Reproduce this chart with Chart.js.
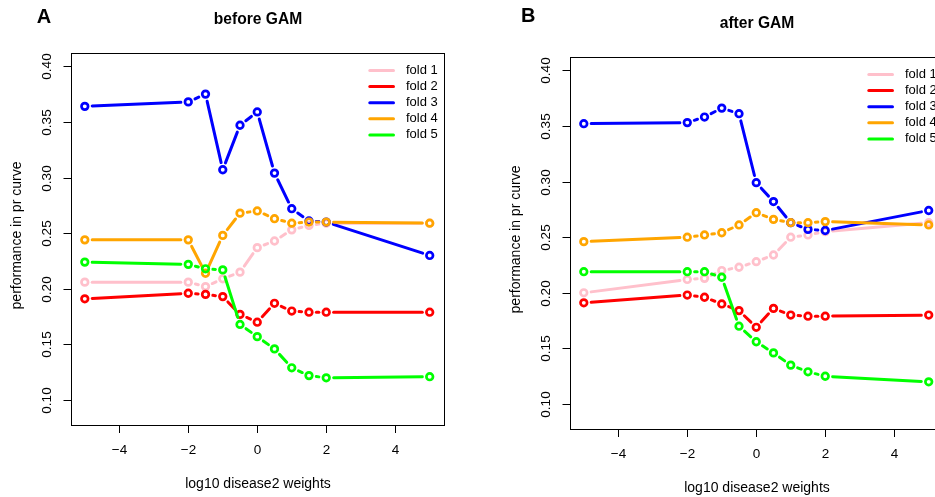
<!DOCTYPE html>
<html>
<head>
<meta charset="utf-8">
<script src="https://cdn.jsdelivr.net/npm/chart.js@4"></script>
<style>
  html, body { margin: 0; padding: 0; width: 935px; height: 497px; overflow: hidden; background: #fff; }
  canvas { position: absolute; }
  #panelA { left: 0; top: 0; }
  #panelB { left: 499px; top: 4px; }
</style>
</head>
<body>
<canvas id="panelA" width="470" height="497"></canvas>
<canvas id="panelB" width="470" height="497"></canvas>
<script>
// log10 weights given to disease2 samples
const weights = [-5, -2, -1.5, -1, -0.5, 0, 0.5, 1, 1.5, 2, 5];

const foldLabels = ['fold 1', 'fold 2', 'fold 3', 'fold 4', 'fold 5'];
const foldColors = ['#FFC0CB', '#FF0000', '#0000FF', '#FFA500', '#00FF00'];

const xTicks = [-4, -2, 0, 2, 4];
const yTicks = [0.10, 0.15, 0.20, 0.25, 0.30, 0.35, 0.40];

// area under the precision-recall curve, before GAM correction
const fold1Before = [0.206, 0.206, 0.202, 0.209, 0.215, 0.237, 0.243, 0.253, 0.257, 0.259, 0.259];
const fold2Before = [0.191, 0.196, 0.195, 0.193, 0.177, 0.170, 0.187, 0.180, 0.179, 0.179, 0.179];
const fold3Before = [0.364, 0.368, 0.375, 0.307, 0.347, 0.359, 0.304, 0.272, 0.261, 0.260, 0.230];
const fold4Before = [0.244, 0.244, 0.214, 0.248, 0.268, 0.270, 0.263, 0.259, 0.260, 0.260, 0.259];
const fold5Before = [0.224, 0.222, 0.218, 0.217, 0.168, 0.157, 0.146, 0.129, 0.122, 0.120, 0.121];

// same, after GAM correction
const fold1After = [0.200, 0.212, 0.213, 0.220, 0.223, 0.228, 0.234, 0.250, 0.252, 0.255, 0.263];
const fold2After = [0.191, 0.198, 0.196, 0.190, 0.184, 0.169, 0.186, 0.180, 0.179, 0.179, 0.180];
const fold3After = [0.352, 0.353, 0.358, 0.366, 0.361, 0.299, 0.282, 0.263, 0.257, 0.256, 0.274];
const fold4After = [0.246, 0.250, 0.252, 0.254, 0.261, 0.272, 0.266, 0.263, 0.263, 0.264, 0.261];
const fold5After = [0.219, 0.219, 0.219, 0.214, 0.170, 0.156, 0.146, 0.135, 0.129, 0.125, 0.120];

const FONT = '"Liberation Sans", Arial, Helvetica, sans-serif';
const LINE_W = 3;
const GAP = 7.4;   // radius of the gap left around each point (type "b" look)

function fmtTick(v) {
  return String(v).replace('-', '\u2212');
}

// Lines broken around every point, drawn just before the dataset's own points
const gappedLines = {
  id: 'gappedLines',
  beforeDatasetDraw(chart, args) {
    const ctx = chart.ctx;
    const pts = args.meta.data;
    const color = chart.data.datasets[args.index].borderColor;
    ctx.save();
    ctx.strokeStyle = color;
    ctx.lineWidth = LINE_W;
    ctx.lineCap = 'round';
    for (let i = 0; i < pts.length - 1; i++) {
      const a = pts[i], b = pts[i + 1];
      const dx = b.x - a.x, dy = b.y - a.y;
      const d = Math.hypot(dx, dy);
      if (d <= 2 * GAP) continue;
      const ux = dx / d, uy = dy / d;
      ctx.beginPath();
      ctx.moveTo(a.x + ux * GAP, a.y + uy * GAP);
      ctx.lineTo(b.x - ux * GAP, b.y - uy * GAP);
      ctx.stroke();
    }
    ctx.restore();
  }
};

// Frame, axes, labels, title, panel tag and legend
const frame = {
  id: 'frame',
  afterDraw(chart, args, opts) {
    const ctx = chart.ctx;
    const area = chart.chartArea;
    const xs = chart.scales.x, ys = chart.scales.y;
    ctx.save();
    ctx.strokeStyle = '#000';
    ctx.fillStyle = '#000';
    ctx.lineWidth = 1;

    // box
    const L = Math.round(area.left) + 0.5, R = Math.round(area.right) + 0.5;
    const T = Math.round(area.top) + 0.5, B = Math.round(area.bottom) + 0.5;
    ctx.strokeRect(L, T, R - L, B - T);

    // x ticks and labels
    ctx.font = '13.5px ' + FONT;
    ctx.textAlign = 'center';
    ctx.textBaseline = 'middle';
    xTicks.forEach(v => {
      const px = Math.round(xs.getPixelForValue(v)) + 0.5;
      ctx.beginPath();
      ctx.moveTo(px, B);
      ctx.lineTo(px, B + 7.5);
      ctx.stroke();
      ctx.fillText(fmtTick(v), px, B + 25);
    });

    // y ticks and rotated labels
    yTicks.forEach(v => {
      const py = Math.round(ys.getPixelForValue(v)) + 0.5;
      ctx.beginPath();
      ctx.moveTo(L, py);
      ctx.lineTo(L - 8, py);
      ctx.stroke();
      ctx.save();
      ctx.translate(L - 24.5, py);
      ctx.rotate(-Math.PI / 2);
      ctx.fillText(v.toFixed(2), 0, 0);
      ctx.restore();
    });

    // axis titles
    ctx.font = '14px ' + FONT;
    ctx.fillText('log10 disease2 weights', (L + R) / 2, B + 59);
    ctx.save();
    ctx.translate(L - 54.5, (T + B) / 2 - 4);
    ctx.rotate(-Math.PI / 2);
    ctx.fillText('performance in pr curve', 0, 0);
    ctx.restore();

    // panel title
    ctx.font = 'bold 15.6px ' + FONT;
    ctx.fillText(opts.title, (L + R) / 2, 20);

    // panel tag
    ctx.font = 'bold 20px ' + FONT;
    ctx.textAlign = 'left';
    ctx.textBaseline = 'alphabetic';
    ctx.fillText(opts.tag, opts.tagX, opts.tagY);

    // legend
    ctx.font = '13px ' + FONT;
    ctx.textBaseline = 'middle';
    ctx.lineWidth = LINE_W;
    ctx.lineCap = 'round';
    foldLabels.forEach((lab, i) => {
      const y = T + 17 + i * 16.1;
      ctx.strokeStyle = foldColors[i];
      ctx.beginPath();
      ctx.moveTo(R - 74.7, y);
      ctx.lineTo(R - 51, y);
      ctx.stroke();
      ctx.fillText(lab, R - 38.5, y);
    });
    ctx.restore();
  }
};

function makePanel(id, tag, tagX, tagY, title, series) {
  const datasets = series.map((vals, i) => ({
    label: foldLabels[i],
    data: weights.map((w, j) => ({ x: w, y: vals[j] })),
    borderColor: foldColors[i],
    backgroundColor: 'rgba(0,0,0,0)',
    pointBorderColor: foldColors[i],
    pointBackgroundColor: 'rgba(0,0,0,0)',
    pointRadius: 3.3,
    pointHoverRadius: 3.3,
    pointBorderWidth: 2.7,
    showLine: false,
    order: series.length - 1 - i
  }));
  return new Chart(document.getElementById(id), {
    type: 'scatter',
    data: { datasets },
    options: {
      responsive: false,
      animation: false,
      devicePixelRatio: 1,
      events: [],
      layout: { padding: { top: 52.5, right: 26.5, left: 0, bottom: 0 } },
      plugins: {
        legend: { display: false },
        tooltip: { enabled: false },
        frame: { tag, tagX, tagY, title }
      },
      scales: {
        x: {
          type: 'linear', min: -5.4, max: 5.4,
          grid: { display: false }, border: { display: false },
          ticks: { display: false },
          afterFit(s) { s.height = 72; }
        },
        y: {
          type: 'linear', min: 0.0776, max: 0.4124,
          grid: { display: false }, border: { display: false },
          ticks: { display: false },
          afterFit(s) { s.width = 71; }
        }
      }
    },
    plugins: [gappedLines, frame]
  });
}

makePanel('panelA', 'A', 36.7, 22.7, 'before GAM',
  [fold1Before, fold2Before, fold3Before, fold4Before, fold5Before]);
makePanel('panelB', 'B', 22, 17.7, 'after GAM',
  [fold1After, fold2After, fold3After, fold4After, fold5After]);
</script>
</body>
</html>
